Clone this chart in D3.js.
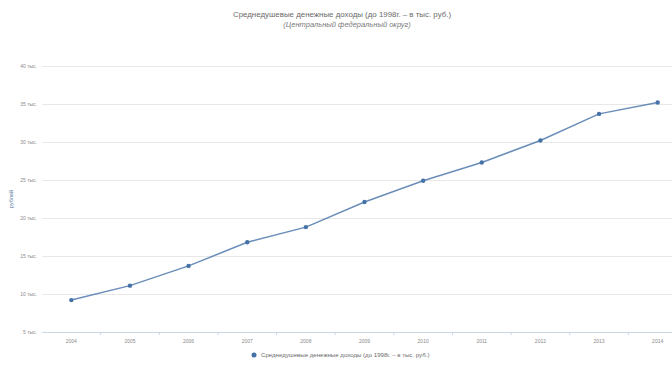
<!DOCTYPE html>
<html>
<head>
<meta charset="utf-8">
<script src="https://cdn.jsdelivr.net/npm/d3@7"></script>
<style>
  body { margin: 0; background: #fff; }
  svg { display: block; font-family: "Liberation Sans", Arial, sans-serif; }
</style>
</head>
<body>
<div id="chart"></div>
<script>
// data
const years = ["2004", "2005", "2006", "2007", "2008", "2009", "2010", "2011", "2012", "2013", "2014"];
const incomes = [9.2, 11.1, 13.7, 16.8, 18.8, 22.1, 24.9, 27.3, 30.2, 33.7, 35.2];
const yTicks = [5, 10, 15, 20, 25, 30, 35, 40];

const titleText = "Среднедушевые денежные доходы (до 1998г. – в тыс. руб.)";
const subtitleText = "(Центральный федеральный округ)";
const seriesName = "Среднедушевые денежные доходы (до 1998г. – в тыс. руб.)";
const yTitle = "рублей";

const width = 672, height = 371;
const plot = { left: 42, right: 687, top: 66, bottom: 332 };

const svg = d3.select("#chart").append("svg")
    .attr("width", width)
    .attr("height", height);

const x = d3.scaleBand()
    .domain(years)
    .range([plot.left, plot.right]);

const y = d3.scaleLinear()
    .domain([5, 40])
    .range([plot.bottom, plot.top]);

// title
svg.append("text")
    .attr("x", 342).attr("y", 17)
    .attr("text-anchor", "middle")
    .attr("font-size", 7.9)
    .attr("fill", "#6b6b6b")
    .text(titleText);

svg.append("text")
    .attr("x", 347).attr("y", 27)
    .attr("text-anchor", "middle")
    .attr("font-size", 7.5)
    .attr("font-style", "italic")
    .attr("fill", "#7a7a7a")
    .text(subtitleText);

// grid + y labels
const yAxis = svg.append("g")
    .attr("transform", `translate(${plot.left},0)`)
    .call(d3.axisLeft(y)
        .tickValues(yTicks)
        .tickSize(-(plot.right - plot.left))
        .tickPadding(5)
        .tickFormat(d => d + " тыс."));
yAxis.select(".domain").remove();
yAxis.selectAll(".tick line")
    .attr("stroke", "#e8e8e8")
    .attr("stroke-width", 1);
yAxis.selectAll(".tick text")
    .attr("font-size", 5)
    .attr("fill", "#8a8a8a")
    .attr("font-family", "Liberation Sans, Arial, sans-serif");

svg.append("text")
    .attr("transform", `translate(13,${(plot.top + plot.bottom) / 2}) rotate(-90)`)
    .attr("text-anchor", "middle")
    .attr("font-size", 5.5)
    .attr("fill", "#5a7aa6")
    .text(yTitle);

// x axis
const xAxis = svg.append("g")
    .attr("transform", `translate(0,${plot.bottom})`)
    .call(d3.axisBottom(x).tickSize(0).tickPadding(7));
xAxis.select(".domain")
    .attr("stroke", "#c8d6e6");
xAxis.selectAll(".tick text")
    .attr("font-size", 5)
    .attr("fill", "#8a8a8a")
    .attr("font-family", "Liberation Sans, Arial, sans-serif");

// tick marks on category boundaries
svg.append("g")
    .selectAll("line")
    .data(years.slice(1))
    .join("line")
    .attr("x1", d => x(d))
    .attr("x2", d => x(d))
    .attr("y1", plot.bottom)
    .attr("y2", plot.bottom + 3)
    .attr("stroke", "#c8d6e6");

// series
const points = years.map((d, i) => ({ year: d, value: incomes[i] }));
const line = d3.line()
    .x(d => x(d.year) + x.bandwidth() / 2)
    .y(d => y(d.value));

svg.append("path")
    .datum(points)
    .attr("fill", "none")
    .attr("stroke", "#4572a7")
    .attr("stroke-width", 1.5)
    .attr("stroke-opacity", 0.8)
    .attr("d", line);

svg.append("g")
    .selectAll("circle")
    .data(points)
    .join("circle")
    .attr("cx", d => x(d.year) + x.bandwidth() / 2)
    .attr("cy", d => y(d.value))
    .attr("r", 2.2)
    .attr("fill", "#4572a7");

// legend
const legend = svg.append("g").attr("transform", "translate(254,355)");
legend.append("circle")
    .attr("r", 2.5)
    .attr("fill", "#4572a7");
legend.append("text")
    .attr("x", 7).attr("y", 2)
    .attr("font-size", 6.1)
    .attr("fill", "#6b6b6b")
    .text(seriesName);
</script>
</body>
</html>
